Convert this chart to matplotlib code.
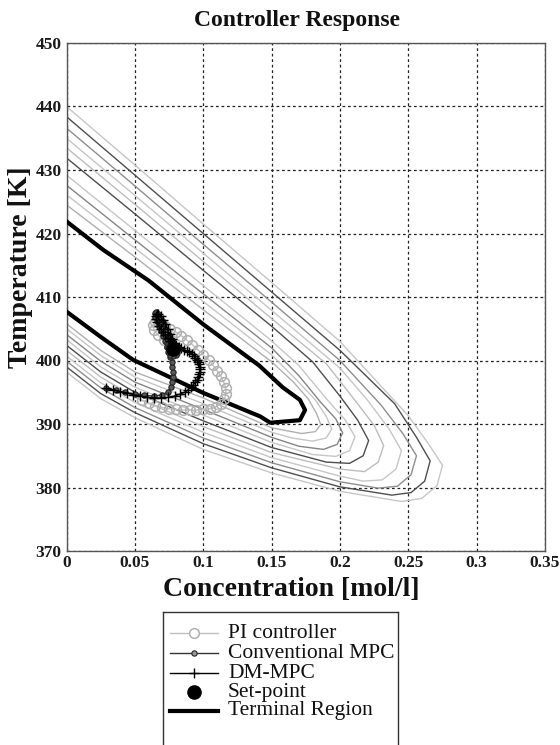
import matplotlib
matplotlib.use('Agg')
import matplotlib.pyplot as plt

plt.rcParams['font.family'] = ['Liberation Serif', 'DejaVu Serif']

# ---------------- data ----------------
x_ticks = [0, 0.05, 0.1, 0.15, 0.2, 0.25, 0.3, 0.35]
x_tick_labels = ['0', '0.05', '0.1', '0.15', '0.2', '0.25', '0.3', '0.35']
y_ticks = [370, 380, 390, 400, 410, 420, 430, 440, 450]
y_tick_labels = ['370', '380', '390', '400', '410', '420', '430', '440', '450']

# level curves (outer -> inner)
lvl0_c = [0, 0.05, 0.1, 0.15, 0.2, 0.25, 0.265, 0.275, 0.271, 0.26, 0.245, 0.2, 0.15, 0.1, 0.05, 0.025, 0]
lvl0_T = [440.0, 430.8, 421.5, 412.3, 403.0, 391.3, 386.8, 383.5, 380.3, 378.3, 377.8, 379.4, 382.3, 386.0, 391.0, 394.0, 398.2]
lvl1_c = [0, 0.05, 0.1, 0.15, 0.2, 0.24, 0.256, 0.266, 0.262, 0.252, 0.238, 0.2, 0.15, 0.1, 0.05, 0.025, 0]
lvl1_T = [438.4, 429.2, 420.0, 410.8, 401.6, 393.2, 387.9, 384.2, 381.0, 379.2, 378.8, 380.1, 383.1, 386.9, 391.8, 394.8, 399.0]
lvl2_c = [0, 0.05, 0.1, 0.15, 0.2, 0.23, 0.246, 0.256, 0.252, 0.242, 0.228, 0.2, 0.15, 0.1, 0.05, 0.025, 0]
lvl2_T = [436.6, 427.5, 418.3, 409.2, 400.0, 393.0, 388.5, 385.0, 382.0, 380.2, 379.9, 380.9, 383.9, 387.8, 392.6, 395.7, 399.9]
lvl3_c = [0, 0.05, 0.1, 0.15, 0.2, 0.22, 0.236, 0.245, 0.241, 0.231, 0.217, 0.2, 0.15, 0.1, 0.05, 0.025, 0]
lvl3_T = [435.0, 426.0, 416.9, 407.9, 398.8, 393.8, 389.2, 385.8, 382.9, 381.2, 381.0, 381.8, 384.7, 388.7, 393.4, 396.5, 400.7]
lvl4_c = [0, 0.05, 0.1, 0.15, 0.19, 0.21, 0.225, 0.232, 0.228, 0.218, 0.2, 0.15, 0.1, 0.05, 0.025, 0]
lvl4_T = [433.5, 424.6, 415.6, 406.6, 399.5, 394.0, 389.8, 386.6, 384.0, 382.5, 382.9, 385.5, 389.6, 394.2, 397.4, 401.6]
lvl5_c = [0, 0.05, 0.1, 0.15, 0.18, 0.2, 0.213, 0.221, 0.217, 0.207, 0.19, 0.15, 0.1, 0.05, 0.025, 0]
lvl5_T = [431.9, 423.1, 414.2, 405.4, 399.8, 394.4, 390.6, 387.4, 385.0, 383.8, 384.0, 386.3, 390.5, 395.0, 398.2, 402.4]
lvl6_c = [0, 0.05, 0.1, 0.15, 0.17, 0.19, 0.204, 0.211, 0.207, 0.197, 0.18, 0.15, 0.1, 0.05, 0.025, 0]
lvl6_T = [429.2, 420.5, 411.8, 403.1, 399.2, 394.0, 390.6, 388.0, 385.8, 384.9, 385.2, 387.1, 391.4, 395.8, 399.0, 403.3]
lvl7_c = [0, 0.05, 0.1, 0.15, 0.17, 0.186, 0.197, 0.202, 0.198, 0.188, 0.17, 0.15, 0.1, 0.05, 0.025, 0]
lvl7_T = [427.6, 419.0, 410.5, 402.0, 397.6, 393.4, 390.8, 388.6, 386.8, 386.0, 386.5, 387.9, 392.3, 396.6, 399.9, 404.1]
lvl8_c = [0, 0.05, 0.1, 0.15, 0.168, 0.182, 0.19, 0.194, 0.19, 0.18, 0.165, 0.15, 0.1, 0.05, 0.025, 0]
lvl8_T = [426.1, 417.7, 409.3, 400.9, 397.0, 393.8, 391.2, 389.2, 387.8, 387.3, 387.8, 388.7, 393.2, 397.4, 400.8, 405.0]
lvl9_c = [0, 0.05, 0.1, 0.15, 0.166, 0.177, 0.183, 0.186, 0.182, 0.172, 0.15, 0.1, 0.05, 0.025, 0]
lvl9_T = [424.5, 416.3, 408.0, 399.8, 396.6, 393.9, 391.6, 389.9, 388.8, 388.5, 389.4, 394.1, 398.2, 401.6, 405.8]
level_shades = ['#c6c6c6', '#4e4e4e', '#8e8e8e', '#c6c6c6', '#bdbdbd',
                '#4e4e4e', '#c6c6c6', '#858585', '#c6c6c6', '#b0b0b0']

# terminal region
term_c = [0, 0.027, 0.06, 0.1, 0.141, 0.158, 0.1707, 0.1745, 0.1707, 0.149, 0.1416, 0.1, 0.0487, 0.0245, 0]
term_T = [421.9, 417.4, 412.6, 405.7, 399.2, 395.8, 393.8, 392.2, 390.6, 390.2, 391.2, 394.9, 400.1, 403.8, 407.7]

# PI controller trajectory
pi_c = [0.055, 0.060, 0.065, 0.070, 0.075, 0.080, 0.085, 0.090, 0.095, 0.100, 0.105, 0.109,
        0.113, 0.1155, 0.1165, 0.1165, 0.115, 0.113, 0.110, 0.107, 0.104, 0.100, 0.096,
        0.092, 0.088, 0.084, 0.080, 0.076, 0.072, 0.068, 0.065, 0.063, 0.064, 0.067,
        0.071, 0.075, 0.078]
pi_T = [393.8, 393.3, 392.9, 392.6, 392.4, 392.3, 392.2, 392.2, 392.2, 392.3, 392.4, 392.7,
        393.2, 393.9, 394.8, 395.7, 396.6, 397.5, 398.4, 399.3, 400.1, 400.9, 401.7,
        402.5, 403.2, 403.9, 404.5, 405.0, 405.5, 405.9, 406.0, 405.6, 404.8, 404.0,
        403.2, 402.6, 402.2]

# Conventional MPC trajectory
conv_c = [0.029, 0.036, 0.043, 0.050, 0.057, 0.064, 0.070, 0.074, 0.0765, 0.0775, 0.078,
          0.078, 0.0775, 0.077, 0.076, 0.075, 0.0735, 0.072, 0.0705, 0.069, 0.0675, 0.066,
          0.065, 0.0648, 0.0655, 0.067, 0.069, 0.071, 0.073, 0.075, 0.077, 0.079, 0.0805,
          0.081, 0.080, 0.078, 0.076, 0.0745, 0.0735, 0.0735, 0.0745, 0.076, 0.0775, 0.0785,
          0.079, 0.0785, 0.077, 0.0755, 0.0748, 0.0752, 0.0765, 0.0778, 0.0782]
conv_T = [395.6, 395.3, 395.0, 394.7, 394.5, 394.4, 394.6, 395.1, 395.8, 396.6, 397.4,
          398.2, 399.0, 399.8, 400.6, 401.4, 402.2, 403.0, 403.8, 404.6, 405.4, 406.2,
          406.9, 407.5, 407.7, 407.3, 406.6, 405.8, 404.9, 404.0, 403.2, 402.5, 401.8,
          401.2, 400.8, 400.7, 400.9, 401.4, 402.1, 402.8, 403.3, 403.4, 403.0, 402.4,
          401.9, 401.5, 401.4, 401.7, 402.2, 402.7, 402.9, 402.6, 402.1]

# DM-MPC trajectory
dm_c = [0.029, 0.034, 0.039, 0.044, 0.049, 0.054, 0.059, 0.064, 0.069, 0.074,
        0.079, 0.083, 0.0865, 0.089, 0.091, 0.0928, 0.0943, 0.0955, 0.0965, 0.0972,
        0.0975, 0.0976, 0.0974, 0.097, 0.0963, 0.0954, 0.0943, 0.093, 0.0915, 0.0898,
        0.088, 0.086, 0.084, 0.082, 0.080, 0.078, 0.076, 0.074, 0.072, 0.0703,
        0.0688, 0.0675, 0.0665, 0.0658, 0.0655, 0.066, 0.0672, 0.0688, 0.0705, 0.0722,
        0.074, 0.0757, 0.0772, 0.0785, 0.0792]
dm_T = [395.6, 395.4, 395.1, 394.9, 394.6, 394.4, 394.2, 394.1, 394.1, 394.2,
        394.4, 394.7, 395.0, 395.4, 395.8, 396.2, 396.6, 397.0, 397.4, 397.8,
        398.2, 398.6, 399.0, 399.4, 399.8, 400.1, 400.4, 400.7, 401.0, 401.3,
        401.5, 401.7, 401.9, 402.1, 402.4, 402.7, 403.1, 403.5, 404.0, 404.5,
        405.0, 405.5, 406.0, 406.5, 407.0, 407.4, 407.4, 407.0, 406.4, 405.7,
        404.9, 404.1, 403.4, 402.8, 402.3]

setpoint_c = [0.078]
setpoint_T = [401.8]

legend_labels = ['PI controller', 'Conventional MPC', 'DM-MPC', 'Set-point', 'Terminal Region']

# ---------------- figure ----------------
W, H = 560, 745
fig = plt.figure(figsize=(W / 100, H / 100), dpi=100)
ax = fig.add_axes([66.5 / W, 1 - 551 / H, 478.5 / W, 508 / H])
ax.set_xlim(0, 0.35)
ax.set_ylim(370, 450)
ax.set_xticks(x_ticks)
ax.set_xticklabels(x_tick_labels)
ax.set_yticks(y_ticks)
ax.set_yticklabels(y_tick_labels)
ax.tick_params(axis='both', length=0, labelsize=12.5)
ax.tick_params(axis='x', pad=3)
ax.tick_params(axis='y', pad=3.5)
for lab in ax.get_xticklabels() + ax.get_yticklabels():
    lab.set_fontweight('bold')
    lab.set_color('#1a1a1a')
ax.grid(True, color='#222222', linestyle=(0, (2.2, 2.2)), linewidth=0.9)
ax.set_axisbelow(True)
for sp in ax.spines.values():
    sp.set_color('#555555')
    sp.set_linewidth(1.0)

levels = [(lvl0_c, lvl0_T), (lvl1_c, lvl1_T), (lvl2_c, lvl2_T), (lvl3_c, lvl3_T),
          (lvl4_c, lvl4_T), (lvl5_c, lvl5_T), (lvl6_c, lvl6_T), (lvl7_c, lvl7_T),
          (lvl8_c, lvl8_T), (lvl9_c, lvl9_T)]
for (cc, tt), shade in zip(levels, level_shades):
    ax.plot(cc, tt, color=shade, lw=1.0, zorder=2)

ax.plot(term_c, term_T, color='black', lw=3.0, zorder=3, solid_joinstyle='round')

ax.plot(pi_c, pi_T, color='#c0c0c0', lw=1.0, marker='o', ms=7, mfc='none',
        mec='#b0b0b0', mew=1.1, zorder=4)
ax.plot(conv_c, conv_T, color='#333333', lw=1.0, marker='o', ms=3.8, mfc='#5a5a5a',
        mec='#222222', mew=0.8, zorder=5)
ax.plot(dm_c, dm_T, color='black', lw=1.0, marker='+', ms=7, mew=1.0, zorder=5)
ax.plot(setpoint_c, setpoint_T, linestyle='none', marker='o', ms=9.5, color='black', zorder=6)

ax.set_title('Controller Response', fontsize=17, fontweight='bold', pad=0,
             x=(297 - 66.5) / 478.5, y=(551 - 26) / 508, color='#111111')
ax.set_xlabel('Concentration [mol/l]', fontsize=20, fontweight='bold', color='#111111',
              va='baseline')
ax.xaxis.set_label_coords((291 - 66.5) / 478.5, -(596 - 551) / 508)
ax.set_ylabel('Temperature [K]', fontsize=20, fontweight='bold', color='#111111')
ax.yaxis.set_label_coords(-(66.5 - 33) / 478.5, (551 - 267) / 508)

# ---------------- legend box (drawn in pixel coordinates) ----------------
lx0, lx1, ly0 = 163, 398, 612
bot = -0.02
lax = fig.add_axes([lx0 / W, bot, (lx1 - lx0) / W, 1 - ly0 / H - bot])
lax.set_xlim(lx0, lx1)
lax.set_ylim(H - bot * H, ly0)
lax.set_xticks([])
lax.set_yticks([])
for sp in lax.spines.values():
    sp.set_color('#333333')
    sp.set_linewidth(1.0)
rows = [633, 653, 673, 692, 711]
hx0, hx1, hxm, tx = 170, 218, 194, 228
lax.plot([hx0, hx1], [rows[0]] * 2, color='#c0c0c0', lw=1.0)
lax.plot([hxm], [rows[0]], marker='o', ms=7, mfc='white', mec='#b0b0b0', mew=1.1)
lax.plot([hx0, hx1], [rows[1]] * 2, color='#333333', lw=1.0)
lax.plot([hxm], [rows[1]], marker='o', ms=3.8, mfc='#9a9a9a', mec='#222222', mew=0.8)
lax.plot([hx0, hx1], [rows[2]] * 2, color='black', lw=1.0)
lax.plot([hxm], [rows[2]], marker='+', ms=7, mew=1.0, color='black')
lax.plot([hxm], [rows[3]], marker='o', ms=9.5, color='black')
lax.plot([hx0, hx1], [rows[4]] * 2, color='black', lw=3.0)
for r, lab in zip(rows, legend_labels):
    lax.text(tx, r, lab, va='center', ha='left', fontsize=15.5, color='#111111')

fig.savefig('out.png', dpi=100)
